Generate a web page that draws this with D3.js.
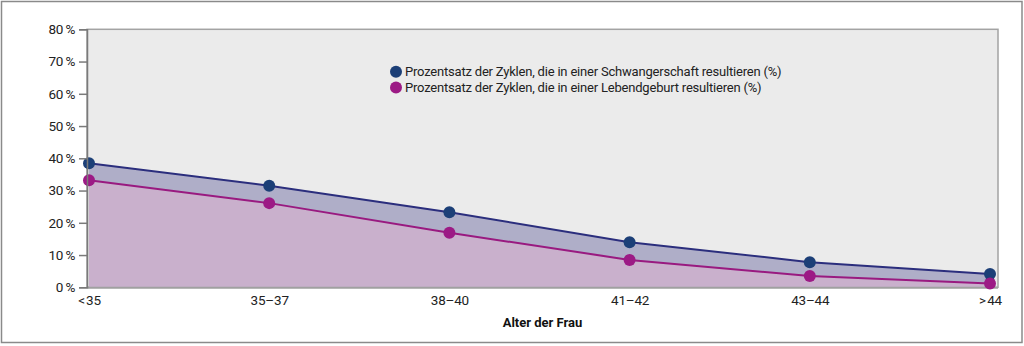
<!DOCTYPE html>
<html><head><meta charset="utf-8">
<script src="https://cdn.jsdelivr.net/npm/d3@7"></script>
<style>
html,body{margin:0;padding:0;background:#fff;}
svg{display:block;font-family:Roboto, "Noto Sans", sans-serif;}
</style></head>
<body><svg id="c" width="1024" height="346"></svg>
<script>
const categories = ["<\u200A35", "35–37", "38–40", "41–42", "43–44", ">\u200A44"];
const pregnancy = [38.5, 31.5, 23.3, 14.0, 7.8, 4.1];
const liveBirth = [33.2, 26.1, 16.9, 8.5, 3.5, 1.2];
const yTicks = [0, 10, 20, 30, 40, 50, 60, 70, 80];
const legendLabels = [
  "Prozentsatz der Zyklen, die in einer Schwangerschaft resultieren (%)",
  "Prozentsatz der Zyklen, die in einer Lebendgeburt resultieren (%)"
];
const xTitle = "Alter der Frau";

const svg = d3.select("#c");
const L = 87, R = 998, T = 29.3, B = 287.3;

svg.append("rect").attr("x", 1.5).attr("y", 1.5).attr("width", 1020.5).attr("height", 341)
  .attr("fill", "#fff").attr("stroke", "#8a8a8a").attr("stroke-width", 1.5);

const x = d3.scalePoint().domain(d3.range(categories.length)).range([89, 990]);
const y = d3.scaleLinear().domain([0, 80]).range([B, T]);

svg.append("rect").attr("x", L).attr("y", T).attr("width", R - L).attr("height", B - T)
  .attr("fill", "#ebebeb").attr("stroke", "#a3a3a3").attr("stroke-width", 1.5);

const idx = d3.range(categories.length);
const areaTop = d3.area().x(i => x(i)).y0(i => y(liveBirth[i])).y1(i => y(pregnancy[i]));
const areaLow = d3.area().x(i => x(i)).y0(y(0)).y1(i => y(liveBirth[i]));

const clipId = "pc";
svg.append("clipPath").attr("id", clipId).append("rect")
  .attr("x", L).attr("y", T).attr("width", R - L).attr("height", B - T);

const g = svg.append("g").attr("clip-path", `url(#${clipId})`);
g.append("path").datum(idx).attr("d", areaTop).attr("fill", "#afaec8");
g.append("path").datum(idx).attr("d", areaLow).attr("fill", "#c9b0cc");

svg.append("line").attr("x1", L).attr("x2", R).attr("y1", B + 0.5).attr("y2", B + 0.5)
  .attr("stroke", "#a0a0a0").attr("stroke-width", 2);

g.append("path").datum(idx).attr("d", d3.line().x(i => x(i)).y(i => y(pregnancy[i])))
  .attr("fill", "none").attr("stroke", "#2b2e7d").attr("stroke-width", 2);
g.append("path").datum(idx).attr("d", d3.line().x(i => x(i)).y(i => y(liveBirth[i])))
  .attr("fill", "none").attr("stroke", "#991a80").attr("stroke-width", 2);

svg.selectAll(".dp").data(idx).join("circle").attr("class", "dp")
  .attr("cx", i => x(i)).attr("cy", i => y(pregnancy[i])).attr("r", 6).attr("fill", "#1c3f77");
svg.selectAll(".dl").data(idx).join("circle").attr("class", "dl")
  .attr("cx", i => x(i)).attr("cy", i => y(liveBirth[i])).attr("r", 6).attr("fill", "#9c1a85");

const yAxis = d3.axisLeft(y).tickValues(yTicks).tickSize(8).tickPadding(4)
  .tickFormat(d => d + "\u2009%");
const ya = svg.append("g").attr("transform", `translate(${L},0)`).call(yAxis);
ya.select(".domain").attr("stroke", "#7a7a7a").attr("stroke-width", 1.5);
ya.selectAll(".tick line").attr("stroke", "#7a7a7a").attr("stroke-width", 1.5);
ya.selectAll(".tick text").attr("fill", "#222").attr("font-size", 13.5)
  .attr("font-family", "Roboto, sans-serif").attr("letter-spacing", -0.3);

const xAxis = d3.axisBottom(x).tickSize(0).tickPadding(8).tickFormat(i => categories[i]);
const xa = svg.append("g").attr("transform", `translate(0,${B})`).call(xAxis);
xa.select(".domain").remove();
xa.selectAll(".tick text").attr("fill", "#222").attr("font-size", 13.5)
  .attr("font-family", "Roboto, sans-serif").attr("letter-spacing", -0.2);

svg.append("text").attr("x", (L + R) / 2).attr("y", 327).attr("text-anchor", "middle")
  .attr("font-size", 13).attr("font-weight", "bold").attr("fill", "#111").text(xTitle);

const legColors = ["#1c3f77", "#9c1a85"];
const leg = svg.append("g");
legendLabels.forEach((t, i) => {
  const yy = 71.7 + i * 15.8;
  leg.append("circle").attr("cx", 396).attr("cy", yy).attr("r", 6).attr("fill", legColors[i]);
  leg.append("text").attr("x", 405).attr("y", yy + 4.5).attr("font-size", 13)
    .attr("letter-spacing", -0.2).attr("fill", "#222").text(t);
});
</script>
</body></html>
